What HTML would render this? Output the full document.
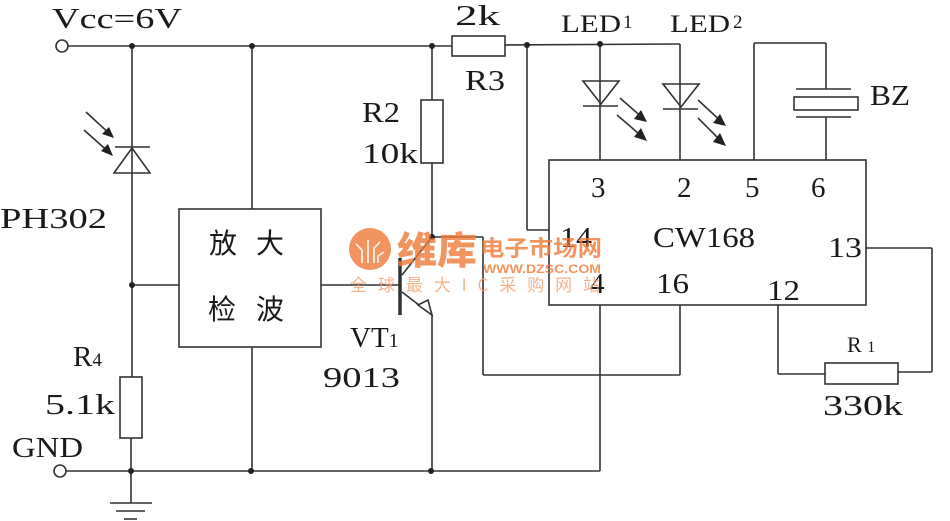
<!DOCTYPE html>
<html><head><meta charset="utf-8"><style>
html,body{margin:0;padding:0;background:#fff;}
svg{display:block;}
text{font-family:"Liberation Serif","Noto Serif CJK SC",serif;fill:#1a1a1a;}
</style></head><body>
<svg width="950" height="521" viewBox="0 0 950 521" xmlns="http://www.w3.org/2000/svg">
<g stroke="#333" stroke-width="1.6" fill="none">
<circle cx="62" cy="46" r="6" fill="#fff"/>
<line x1="68" y1="46" x2="452" y2="46"/>
<rect x="452" y="36" width="53" height="20"/>
<line x1="505" y1="45" x2="680" y2="44"/>
<line x1="680" y1="44" x2="680" y2="160"/>
<line x1="600" y1="44" x2="600" y2="160"/>
<line x1="527" y1="45" x2="527" y2="230"/>
<line x1="527" y1="230" x2="549" y2="230"/>
<polygon points="583,81 619,81 601,104"/>
<line x1="583" y1="106" x2="618" y2="106"/>
<polygon points="663,84 699,84 681,107"/>
<line x1="663" y1="109" x2="698" y2="109"/>
<line x1="754" y1="160" x2="754" y2="43"/>
<line x1="754" y1="43" x2="826" y2="43"/>
<line x1="826" y1="43" x2="826" y2="89"/>
<line x1="796" y1="89" x2="851" y2="89"/>
<rect x="794" y="97" width="64" height="13"/>
<line x1="796" y1="117" x2="851" y2="117"/>
<line x1="826" y1="117" x2="826" y2="160"/>
<rect x="549" y="160" width="317" height="145"/>
<line x1="866" y1="248" x2="932" y2="248"/>
<line x1="932" y1="248" x2="932" y2="372"/>
<line x1="932" y1="372" x2="898" y2="372"/>
<rect x="825" y="363" width="73" height="21"/>
<line x1="825" y1="374" x2="778" y2="374"/>
<line x1="778" y1="374" x2="778" y2="305"/>
<line x1="600" y1="305" x2="600" y2="471"/>
<line x1="680" y1="305" x2="680" y2="375"/>
<line x1="680" y1="375" x2="483" y2="375"/>
<line x1="483" y1="375" x2="483" y2="237"/>
<line x1="483" y1="237" x2="432" y2="237"/>
<line x1="432" y1="46" x2="432" y2="100"/>
<rect x="421" y="100" width="22" height="63"/>
<line x1="432" y1="163" x2="432" y2="237"/>
<line x1="402" y1="275" x2="432" y2="237"/>
<line x1="400" y1="258" x2="400" y2="315" stroke-width="3.5"/>
<line x1="321" y1="285" x2="400" y2="285"/>
<line x1="402" y1="292" x2="432" y2="315"/>
<polygon points="418,305 432,315 428,300" fill="#fff"/>
<line x1="432" y1="315" x2="432" y2="471"/>
<line x1="132" y1="46" x2="132" y2="377"/>
<line x1="115" y1="147" x2="150" y2="147"/>
<polygon points="132,148 114,173 150,173"/>
<rect x="120" y="377" width="22" height="61"/>
<line x1="131" y1="438" x2="131" y2="503"/>
<line x1="110" y1="503" x2="152" y2="503"/>
<line x1="116" y1="511" x2="145" y2="511"/>
<line x1="124" y1="519" x2="137" y2="519"/>
<circle cx="60" cy="471" r="6" fill="#fff"/>
<line x1="66" y1="471" x2="600" y2="471"/>
<line x1="132" y1="285" x2="179" y2="285"/>
<rect x="179" y="209" width="142" height="138"/>
<line x1="252" y1="46" x2="252" y2="209"/>
<line x1="252" y1="347" x2="252" y2="471"/>
<line x1="86" y1="112" x2="112" y2="136"/>
<line x1="84" y1="130" x2="111" y2="154"/>
<line x1="620" y1="98" x2="645" y2="120"/>
<line x1="617" y1="115" x2="645" y2="139"/>
<line x1="698" y1="100" x2="724" y2="124"/>
<line x1="698" y1="118" x2="724" y2="144"/>
</g>
<g fill="#222">
<polygon points="114,138 102,134 109,127"/>
<polygon points="113,156 101,151 108,144"/>
<polygon points="647,122 634,119 641,110"/>
<polygon points="647,141 634,137 641,128"/>
<polygon points="726,126 713,123 720,114"/>
<polygon points="726,146 713,142 720,133"/>
<circle cx="132" cy="46" r="3"/><circle cx="252" cy="46" r="3"/><circle cx="432" cy="46" r="3"/>
<circle cx="527" cy="45" r="3"/><circle cx="600" cy="44" r="3"/>
<circle cx="432" cy="237" r="3"/><circle cx="132" cy="285" r="3"/>
<circle cx="131" cy="471" r="3"/><circle cx="251" cy="471" r="3"/><circle cx="431" cy="471" r="3"/>
</g>
<g font-size="29" lengthAdjust="spacingAndGlyphs">
<text x="52" y="28" textLength="130" lengthAdjust="spacingAndGlyphs">Vcc=6V</text>
<text x="0" y="228" textLength="107" lengthAdjust="spacingAndGlyphs">PH302</text>
<text x="73" y="366">R<tspan font-size="19">4</tspan></text>
<text x="45" y="414" textLength="70" lengthAdjust="spacingAndGlyphs">5.1k</text>
<text x="12" y="457" textLength="71" lengthAdjust="spacingAndGlyphs">GND</text>
<text x="362" y="122" textLength="38" lengthAdjust="spacingAndGlyphs">R2</text>
<text x="362" y="163" textLength="56" lengthAdjust="spacingAndGlyphs">10k</text>
<text x="455" y="25" textLength="45" lengthAdjust="spacingAndGlyphs">2k</text>
<text x="465" y="90" textLength="40" lengthAdjust="spacingAndGlyphs">R3</text>
<text x="350" y="347">VT<tspan font-size="20">1</tspan></text>
<text x="323" y="387" textLength="77" lengthAdjust="spacingAndGlyphs">9013</text>
<text x="561" y="32" font-size="25" textLength="60" lengthAdjust="spacingAndGlyphs">LED</text>
<text x="623" y="28" font-size="19">1</text>
<text x="670" y="32" font-size="25" textLength="60" lengthAdjust="spacingAndGlyphs">LED</text>
<text x="733" y="28" font-size="19">2</text>
<text x="870" y="105" textLength="40" lengthAdjust="spacingAndGlyphs">BZ</text>
<text x="591" y="197">3</text><text x="677" y="197">2</text><text x="745" y="197">5</text><text x="811" y="197">6</text>
<text x="560" y="247" textLength="32" lengthAdjust="spacingAndGlyphs">14</text>
<text x="653" y="247" textLength="102" lengthAdjust="spacingAndGlyphs">CW168</text>
<text x="828" y="257" textLength="34" lengthAdjust="spacingAndGlyphs">13</text>
<text x="590" y="293">4</text>
<text x="656" y="293" textLength="33" lengthAdjust="spacingAndGlyphs">16</text>
<text x="767" y="300" textLength="33" lengthAdjust="spacingAndGlyphs">12</text>
<text x="847" y="352" font-size="22">R <tspan font-size="16">1</tspan></text>
<text x="823" y="415" textLength="80" lengthAdjust="spacingAndGlyphs">330k</text>
</g>
<g font-size="28">
<text x="209" y="253" style="font-family:'Noto Sans CJK SC',sans-serif">放</text><text x="256" y="253" style="font-family:'Noto Sans CJK SC',sans-serif">大</text>
<text x="208" y="319" style="font-family:'Noto Sans CJK SC',sans-serif">检</text><text x="256" y="319" style="font-family:'Noto Sans CJK SC',sans-serif">波</text>
</g>
<g opacity="0.8">
<circle cx="370" cy="249" r="21" fill="#f07a38"/>
<g stroke="#fff" stroke-width="1.5" fill="none"><path d="M362 263 L362 250 L356 244 M368 263 L368 240 M374 263 L374 248 L380 242 M378 263 L378 256 L384 252"/></g>
<text x="397" y="264" font-size="38" fill="#f07a38" textLength="80" lengthAdjust="spacingAndGlyphs" style="font-family:'Noto Sans CJK SC',sans-serif;font-weight:900;fill:#f07a38">维库</text>
<text x="480" y="256" font-size="22" textLength="122" lengthAdjust="spacingAndGlyphs" style="font-family:'Noto Sans CJK SC',sans-serif;font-weight:bold;fill:#f07a38">电子市场网</text>
<text x="483" y="273" font-size="12" textLength="118" lengthAdjust="spacingAndGlyphs" style="font-family:'Liberation Sans',sans-serif;font-weight:bold;fill:#f07a38">WWW.DZSC.COM</text>
<text x="350" y="291" font-size="17" textLength="250" lengthAdjust="spacing" style="font-family:'Noto Sans CJK SC',sans-serif;fill:#f5a070">全球最大IC采购网站</text>
</g>
</svg>
</body></html>
